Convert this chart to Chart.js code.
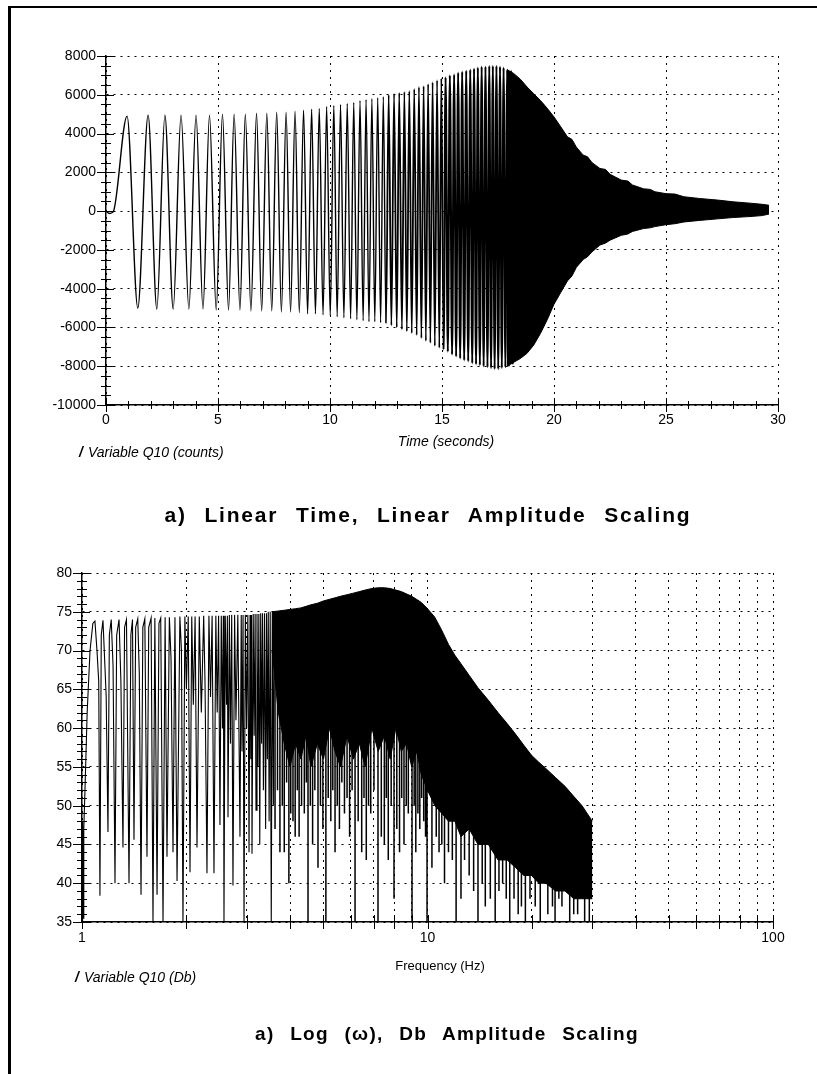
<!DOCTYPE html>
<html>
<head>
<meta charset="utf-8">
<script src="https://cdn.jsdelivr.net/npm/chart.js@4.4.1/dist/chart.umd.min.js"></script>
<style>
html, body { margin: 0; padding: 0; background: #fff; overflow: hidden; }
body { width: 817px; height: 1074px; position: relative; font-family: "Liberation Sans", Arial, sans-serif; color: #000; }
canvas { position: absolute; left: 0; }
#frame { position: absolute; left: 8px; top: 6px; width: 840px; height: 1100px; border-left: 3px solid #000; border-top: 2px solid #000; pointer-events: none; }
.lbl { position: absolute; white-space: nowrap; line-height: 1; }
.it { font-style: italic; }
.ttl { font-weight: bold; transform: translateX(-50%); }
.mark { display: inline-block; font-weight: bold; margin-right: 5px; }
</style>
</head>
<body>
<canvas id="timeChart" width="817" height="500" style="top:0"></canvas>
<canvas id="freqChart" width="817" height="574" style="top:500px"></canvas>
<div id="frame"></div>

<div class="lbl it" style="left:446px; top:434px; font-size:14px; transform:translateX(-50%)">Time (seconds)</div>
<div class="lbl it" style="left:79px; top:445px; font-size:14px"><span class="mark">/</span>Variable Q10 (counts)</div>
<div class="lbl ttl" style="left:428px; top:504px; font-size:21px; letter-spacing:1.8px; word-spacing:10px">a)  Linear  Time,  Linear  Amplitude  Scaling</div>

<div class="lbl" style="left:440px; top:959px; font-size:13px; transform:translateX(-50%)">Frequency (Hz)</div>
<div class="lbl it" style="left:75px; top:970px; font-size:14px"><span class="mark">/</span>Variable Q10 (Db)</div>
<div class="lbl ttl" style="left:447px; top:1024px; font-size:19px; letter-spacing:1.3px; word-spacing:9px">a)  Log  (ω),  Db  Amplitude  Scaling</div>

<script>
// ---- top chart: time history (counts) ----
const START_T = [0, 0.15, 0.32];
const START_V = [0, -120, -40];

const PEAK_T = [0.94, 1.88, 2.63, 3.35, 4.02, 4.62, 5.20, 5.72, 6.22, 6.72, 7.18, 7.62, 8.04, 8.44, 8.82, 9.18, 9.52, 9.85,
  10.17, 10.47, 10.77, 11.06, 11.34, 11.61, 11.87, 12.13, 12.38, 12.62, 12.86, 13.09, 13.32, 13.54, 13.76, 13.97,
  14.18, 14.38, 14.58, 14.78, 14.97, 15.16, 15.35, 15.54, 15.72, 15.90, 16.08, 16.26, 16.43, 16.60, 16.77, 16.94,
  17.11, 17.27, 17.43, 17.59, 17.75, 17.91, 18.07];
const PEAK_V = [4900, 4950, 4950, 4950, 4950, 4950, 5000, 5000, 5000, 5050, 5050, 5100, 5100, 5150, 5200, 5250, 5300, 5400,
  5450, 5500, 5550, 5600, 5700, 5750, 5800, 5850, 5900, 6000, 6050, 6100, 6150, 6200, 6300, 6400,
  6450, 6550, 6650, 6750, 6850, 6900, 7000, 7050, 7150, 7200, 7250, 7300, 7350, 7400, 7450, 7450,
  7500, 7500, 7500, 7450, 7400, 7300, 7200];

const TROUGH_T = [1.42, 2.27, 3.00, 3.70, 4.33, 4.92, 5.47, 5.98, 6.47, 6.95, 7.40, 7.83, 8.24, 8.63, 9.00, 9.35, 9.69,
  10.01, 10.32, 10.62, 10.92, 11.20, 11.48, 11.74, 12.00, 12.26, 12.50, 12.74, 12.98, 13.21, 13.43, 13.65, 13.87,
  14.08, 14.28, 14.48, 14.68, 14.88, 15.07, 15.26, 15.45, 15.63, 15.81, 15.99, 16.17, 16.35, 16.52, 16.69, 16.86,
  17.03, 17.19, 17.35, 17.51, 17.67, 17.83, 17.99, 18.15];
const TROUGH_V = [-5000, -5050, -5050, -5050, -5050, -5100, -5100, -5100, -5150, -5150, -5150, -5200, -5200, -5250, -5300, -5300, -5350,
  -5400, -5450, -5500, -5550, -5600, -5650, -5700, -5700, -5750, -5800, -5900, -6000, -6100, -6200, -6300, -6400,
  -6550, -6700, -6800, -6950, -7050, -7150, -7250, -7400, -7500, -7600, -7700, -7750, -7850, -7900, -7950, -8000,
  -8050, -8100, -8150, -8150, -8100, -8050, -8000, -7900];

// dense tail, read as upper / lower envelope
const TAIL_T  = [17.9, 18.2, 18.5, 18.8, 19.1, 19.4, 19.7, 20.0, 20.3, 20.6, 20.8, 21.0, 21.3, 21.5, 21.7, 22.05, 22.3, 22.5,
  23.0, 23.3, 23.5, 24.0, 24.3, 24.5, 25.0, 25.4, 25.8, 26.5, 27.3, 28.0, 28.75, 29.3, 29.6];
const TAIL_HI = [7300, 7100, 6800, 6400, 6050, 5700, 5300, 4860, 4350, 3830, 3700, 3300, 2890, 2800, 2500, 2200, 2150, 1900,
  1600, 1550, 1350, 1150, 1120, 1000, 900, 880, 740, 650, 570, 480, 410, 350, 300];
const TAIL_LO = [-8000, -7800, -7600, -7330, -6900, -6300, -5600, -4800, -4200, -3600, -3350, -2900, -2500, -2350, -2100, -1750, -1650, -1500,
  -1250, -1180, -1050, -900, -860, -800, -700, -650, -560, -480, -400, -330, -280, -230, -150];

// ---- bottom chart: spectrum (Db) ----
const SPEC_F = [1.000, 1.004, 1.008, 1.012, 1.020, 1.035, 1.055, 1.075, 1.090, 1.105, 1.118, 1.127, 1.137, 1.150, 1.165, 1.175,
  1.189, 1.200, 1.215, 1.230, 1.246, 1.260, 1.280, 1.296, 1.314, 1.328, 1.345, 1.368, 1.385, 1.400, 1.414, 1.430, 1.450,
  1.465, 1.482, 1.500, 1.520, 1.542, 1.560, 1.585, 1.605, 1.625, 1.649, 1.670, 1.690, 1.716, 1.740, 1.762, 1.790, 1.810,
  1.834, 1.858, 1.884, 1.920, 1.940, 1.960, 1.985, 2.005, 2.030, 2.054, 2.078, 2.100, 2.125, 2.152, 2.185, 2.215, 2.250,
  2.270, 2.300, 2.330, 2.355, 2.380, 2.410, 2.440, 2.462, 2.485, 2.508, 2.530, 2.550, 2.565, 2.576, 2.598, 2.620, 2.635,
  2.646, 2.670, 2.690, 2.712, 2.735, 2.765, 2.790, 2.825, 2.866, 2.890, 2.905, 2.925, 2.944, 2.970, 2.995, 3.020, 3.044,
  3.065, 3.080, 3.095, 3.105, 3.130, 3.150, 3.170, 3.189, 3.210, 3.230, 3.250, 3.270, 3.290, 3.310, 3.330, 3.350, 3.375,
  3.400, 3.420, 3.440, 3.460, 3.480, 3.505, 3.530, 3.555, 3.580, 3.600];
const SPEC_DB = [35, 48, 35.5, 47, 52, 62, 70, 73.5, 73.8, 70, 66, 38.4, 72, 73.9, 68, 64,
  46.6, 72, 74, 68, 40.0, 72, 74, 66, 44.6, 73, 74, 40.0, 72, 74, 45.6, 73, 74.1,
  67, 38.5, 73, 74.1, 43.4, 73, 74.2, 35, 74.2, 38.5, 73.5, 74.2, 35, 74.3, 43.4, 74.3, 69,
  44, 74.3, 40.3, 74.4, 70, 35, 74.4, 65, 74.4, 41.4, 74.4, 63, 74.4, 44.6, 74.4, 62, 74.5,
  66, 41.3, 74.5, 64, 74.5, 41.3, 74.5, 62, 74.5, 47.5, 74.5, 60, 74.5, 35, 74.5, 63, 74.5,
  48.5, 74.6, 58, 74.6, 39.7, 74.6, 61, 74.6, 46, 74.6, 57, 74.6, 35, 74.6, 60, 74.6, 44,
  74.6, 56, 74.6, 43.8, 74.7, 59, 74.7, 49.4, 74.7, 55, 74.7, 45, 74.8, 58, 74.8, 52, 74.8,
  47, 74.8, 56, 75, 48, 75, 35, 75, 50, 75];

// dense part, read as upper / lower edge of the black mass
const MASS_F  = [3.55, 3.7, 3.85, 4.0, 4.15, 4.3, 4.45, 4.6, 4.8, 5.0, 5.2, 5.4, 5.6, 5.85, 6.1, 6.35, 6.6, 6.9, 7.2, 7.5,
  7.8, 8.1, 8.4, 8.7, 9.0, 9.3, 9.6, 10.0, 10.5, 11.0, 11.5, 12.0, 12.5, 13.2, 14, 15, 16, 17, 18, 19, 20, 21, 22, 23.5,
  25, 26.5, 28, 30];
const MASS_HI = [75.0, 75.1, 75.2, 75.3, 75.4, 75.5, 75.7, 75.9, 76.1, 76.4, 76.6, 76.8, 77.0, 77.2, 77.4, 77.6, 77.8, 78.0, 78.1, 78.1,
  78.0, 77.8, 77.6, 77.3, 77.0, 76.6, 76.2, 75.4, 74.3, 72.6, 70.8, 69.4, 68.3, 66.8, 65.2, 63.6, 62.0, 60.6, 59.2, 57.8, 56.5, 55.6, 54.8, 53.6,
  52.5, 51.2, 50.0, 48.0];
const MASS_LO = [70, 62, 58, 55, 58, 56, 59, 55, 58, 56, 60, 57, 55, 59, 56, 58, 55, 60, 57, 59,
  56, 60, 57, 58, 55, 57, 54, 52, 50, 49, 48, 48, 46, 47, 45, 45, 43, 43, 42, 41, 41, 40, 40, 39,
  39, 38, 38, 38];

// single dips that leave the black mass
const DIP_F = [3.62, 3.68, 3.74, 3.80, 3.85, 3.91, 3.97, 4.02, 4.08, 4.14, 4.20, 4.25, 4.32, 4.40, 4.46, 4.51, 4.58, 4.65,
  4.72, 4.82, 4.90, 4.98, 5.08, 5.16, 5.25, 5.32, 5.40, 5.48, 5.56, 5.65, 5.75, 5.85, 5.95, 6.05, 6.17, 6.30, 6.45, 6.55,
  6.65, 6.75, 6.85, 7.00, 7.19, 7.35, 7.50, 7.60, 7.70, 7.85, 8.00, 8.15, 8.30, 8.42, 8.55, 8.68, 8.80, 9.02, 9.15, 9.25,
  9.38, 9.50, 9.62, 9.75, 9.87, 9.97,
  10.3, 10.6, 10.8, 11.0, 11.2, 11.5, 11.8, 12.1, 12.5, 12.8, 13.2, 13.6, 14.0, 14.4, 14.7, 15.2, 15.7, 16.1, 16.5, 16.9,
  17.3, 17.8, 18.3, 18.7, 19.2, 19.8, 20.5, 21.2, 22.3, 23.0, 23.4, 24.0, 24.5, 25.8, 26.5, 27.2, 28.5, 29.4];
const DIP_TOP = [68, 64, 62, 62, 62, 62, 62, 62, 62, 62, 62, 62, 62, 62, 62, 62, 62, 62,
  62, 62, 62, 62, 62, 62, 62, 62, 62, 62, 62, 62, 62, 62, 62, 62, 62, 62, 62, 62,
  62, 62, 62, 62, 62, 62, 62, 62, 62, 62, 62, 62, 62, 62, 62, 62, 62, 62, 62, 62,
  60, 60, 58, 58, 57, 56,
  53, 52, 51, 51, 50, 50, 50, 50, 49, 49, 48, 48, 47, 47, 46, 46, 45, 45, 45, 44,
  44, 43, 43, 43, 42, 42, 42, 41, 41, 41, 40, 40, 40, 40, 39, 39, 39, 39];
const DIP_DB = [47, 52, 44, 50, 44, 53, 40, 49, 48, 46, 52, 46, 50, 49, 53, 35, 50, 45,
  52, 42, 50, 47, 35, 51, 48, 52, 44, 50, 47, 53, 49, 51, 46, 52, 35, 48, 44, 51,
  43, 50, 49, 52, 35, 46, 45, 51, 43, 50, 38, 47, 44, 51, 45, 50, 49, 35, 50, 44,
  49, 47, 51, 48, 46, 35,
  42, 46, 44, 45, 40, 44, 43, 35, 38, 43, 41, 39, 35, 40, 37, 38, 35, 39, 40, 38,
  35, 38, 36, 37, 35, 38, 37, 35, 36, 37, 35, 38, 37, 35, 36, 36, 35, 35];

// build point lists from the arrays
const wavePts = [];
START_T.forEach((t, i) => wavePts.push({ x: t, y: START_V[i] }));
PEAK_T.forEach((t, i) => wavePts.push({ x: t, y: PEAK_V[i] }));
TROUGH_T.forEach((t, i) => wavePts.push({ x: t, y: TROUGH_V[i] }));
wavePts.sort((a, b) => a.x - b.x);

const tailHi = TAIL_T.map((t, i) => ({ x: t, y: TAIL_HI[i] }));
const tailLo = TAIL_T.map((t, i) => ({ x: t, y: TAIL_LO[i] }));

const specPts = SPEC_F.map((f, i) => ({ x: f, y: SPEC_DB[i] }));
const massHi = MASS_F.map((f, i) => ({ x: f, y: MASS_HI[i] }));
const massLo = MASS_F.map((f, i) => ({ x: f, y: MASS_LO[i] }));
const dipPts = [];
DIP_F.forEach((f, i) => {
  dipPts.push({ x: f, y: DIP_TOP[i] }, { x: f, y: DIP_DB[i] }, { x: f, y: null });
});

// crossing tick marks on the axes (major + minor)
const axisTicks = {
  id: 'axisTicks',
  afterDraw(chart, args, opts) {
    const ctx = chart.ctx;
    const xs = chart.scales.x, ys = chart.scales.y;
    const bottom = chart.chartArea.bottom, left = chart.chartArea.left;
    ctx.save();
    ctx.strokeStyle = '#000';
    ctx.lineWidth = 1;
    ctx.beginPath();
    opts.xMajor.forEach(v => {
      const px = Math.round(xs.getPixelForValue(v)) + 0.5;
      ctx.moveTo(px, bottom - 7); ctx.lineTo(px, bottom + 7);
    });
    opts.xMinor.forEach(v => {
      const px = Math.round(xs.getPixelForValue(v)) + 0.5;
      ctx.moveTo(px, bottom - 4); ctx.lineTo(px, bottom + 4);
    });
    opts.yMajor.forEach(v => {
      const py = Math.round(ys.getPixelForValue(v)) + 0.5;
      ctx.moveTo(left - 9, py); ctx.lineTo(left + 8, py);
    });
    opts.yMinor.forEach(v => {
      const py = Math.round(ys.getPixelForValue(v)) + 0.5;
      ctx.moveTo(left - 5, py); ctx.lineTo(left + 5, py);
    });
    ctx.stroke();
    ctx.restore();
  }
};

function range(a, b, s) { const r = []; for (let v = a; v <= b + 1e-9; v += s) r.push(+v.toFixed(6)); return r; }

const tickFont = { family: 'Liberation Sans, Arial, sans-serif', size: 14 };
const band = (pts, fill) => ({ data: pts, borderColor: '#000', borderWidth: 1, pointRadius: 0, backgroundColor: '#000', fill: fill });

// top chart
new Chart(document.getElementById('timeChart'), {
  type: 'line',
  data: {
    datasets: [
      { data: wavePts, borderColor: '#000', borderWidth: 1.4, pointRadius: 0, cubicInterpolationMode: 'monotone', fill: false,
        segment: { borderWidth: c => (c.p0.parsed.x >= 15 ? 2.1 : c.p0.parsed.x >= 12.5 ? 1.8 : 1.4) } },
      band(tailHi, '+1'),
      band(tailLo, false)
    ]
  },
  options: {
    responsive: false,
    animation: false,
    events: [],
    layout: { padding: { top: 56, right: 39, left: 0, bottom: 0 } },
    plugins: {
      legend: { display: false },
      tooltip: { enabled: false },
      axisTicks: {
        xMajor: range(0, 30, 5), xMinor: range(0, 30, 1),
        yMajor: range(-10000, 8000, 2000), yMinor: range(-10000, 8000, 500)
      }
    },
    scales: {
      x: {
        type: 'linear', min: 0, max: 30,
        afterFit(s) { s.height = 95; },
        grid: { color: '#000', lineWidth: 1, drawTicks: false },
        border: { display: true, color: '#000', width: 1.5, dash: [2, 5] },
        ticks: { stepSize: 5, color: '#000', font: tickFont, padding: 7, maxRotation: 0, callback: v => String(v) }
      },
      y: {
        min: -10000, max: 8000,
        afterFit(s) { s.width = 106; },
        grid: { color: '#000', lineWidth: 1, drawTicks: false },
        border: { display: true, color: '#000', width: 1.5, dash: [2, 5] },
        ticks: { stepSize: 2000, color: '#000', font: tickFont, padding: 10, callback: v => String(v) }
      }
    }
  },
  plugins: [axisTicks]
});

// bottom chart
const logMajor = [1, 2, 3, 4, 5, 6, 7, 8, 9, 10, 20, 30, 40, 50, 60, 70, 80, 90, 100];
new Chart(document.getElementById('freqChart'), {
  type: 'line',
  data: {
    datasets: [
      { data: specPts, borderColor: '#000', borderWidth: 1.1, pointRadius: 0, tension: 0, fill: false },
      band(massHi, '+1'),
      band(massLo, false),
      { data: dipPts, borderColor: '#000', borderWidth: 1.5, pointRadius: 0, spanGaps: false, fill: false }
    ]
  },
  options: {
    responsive: false,
    animation: false,
    events: [],
    layout: { padding: { top: 73, right: 44, left: 0, bottom: 0 } },
    plugins: {
      legend: { display: false },
      tooltip: { enabled: false },
      axisTicks: {
        xMajor: logMajor, xMinor: [],
        yMajor: range(35, 80, 5), yMinor: range(35, 80, 1)
      }
    },
    scales: {
      x: {
        type: 'logarithmic', min: 1, max: 100,
        afterFit(s) { s.height = 152; },
        afterBuildTicks(s) { s.ticks = logMajor.map(v => ({ value: v })); },
        grid: { color: '#000', lineWidth: 1, drawTicks: false },
        border: { display: true, color: '#000', width: 1.5, dash: [2, 5] },
        ticks: {
          autoSkip: false, maxRotation: 0, color: '#000', font: tickFont, padding: 8,
          callback: v => ([1, 10, 100].includes(v) ? String(v) : '')
        }
      },
      y: {
        min: 35, max: 80,
        afterFit(s) { s.width = 82; },
        grid: { color: '#000', lineWidth: 1, drawTicks: false },
        border: { display: true, color: '#000', width: 1.5, dash: [2, 5] },
        ticks: { stepSize: 5, color: '#000', font: tickFont, padding: 10, callback: v => String(v) }
      }
    }
  },
  plugins: [axisTicks]
});
</script>
</body>
</html>
